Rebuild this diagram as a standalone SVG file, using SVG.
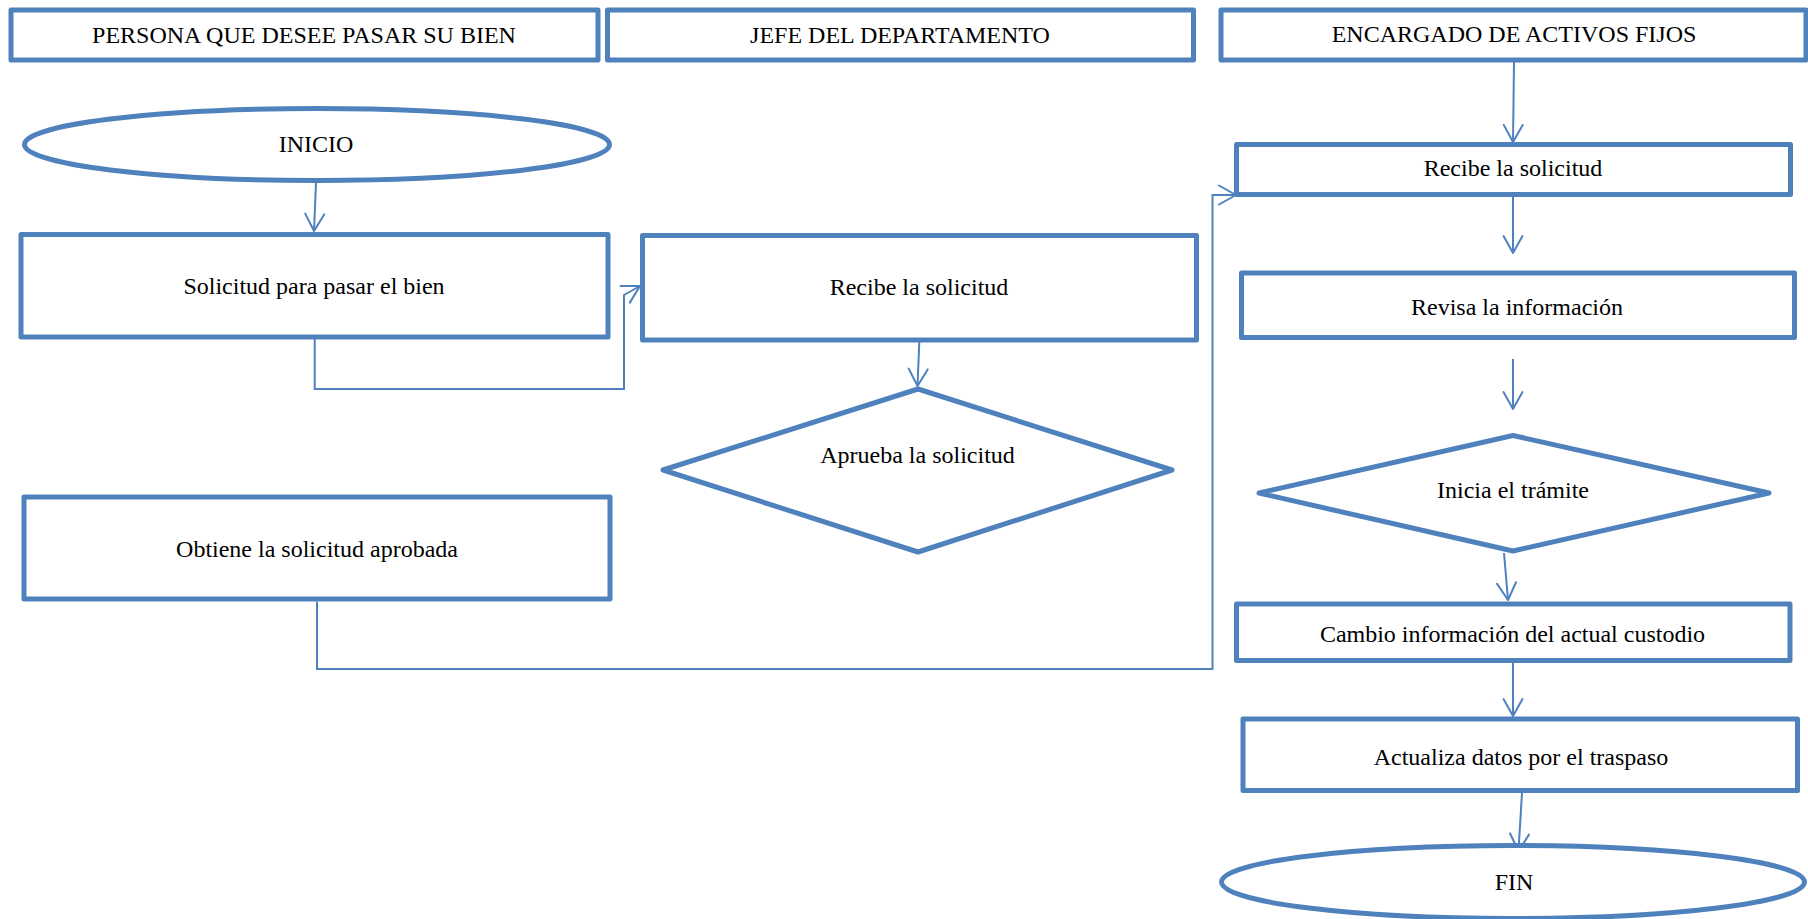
<svg xmlns="http://www.w3.org/2000/svg" width="1808" height="919" viewBox="0 0 1808 919">
  <style>
    .shape { fill: #ffffff; stroke: #4F81BD; stroke-width: 5; stroke-linejoin: round; }
    .conn { fill: none; stroke: #4F81BD; stroke-width: 2; marker-end: url(#arrow); }
    .wire { fill: none; stroke: #4F81BD; stroke-width: 2; }
    text { font-family: "Liberation Serif", "Times New Roman", serif; font-size: 24px; fill: #000000; text-anchor: middle; }
  </style>
  <defs>
    <marker id="arrow" viewBox="-20 -12 24 24" refX="0" refY="0" markerWidth="24" markerHeight="24" markerUnits="userSpaceOnUse" orient="auto" overflow="visible">
      <path d="M-17,-9.5 L0,0 L-17,9.5" fill="none" stroke="#4F81BD" stroke-width="2" stroke-linecap="round" stroke-linejoin="round"/>
    </marker>
  </defs>

  <rect width="1808" height="919" fill="#ffffff"/>

  <!-- swimlane headers -->
  <g id="lane-persona">
    <rect class="shape" x="11" y="10" width="587" height="50"/>
    <text x="304" y="43">PERSONA QUE DESEE PASAR SU BIEN</text>
  </g>
  <g id="lane-jefe">
    <rect class="shape" x="607.5" y="10" width="586" height="50"/>
    <text x="900" y="43">JEFE DEL DEPARTAMENTO</text>
  </g>
  <g id="lane-encargado">
    <rect class="shape" x="1221" y="10" width="585" height="50"/>
    <text x="1514" y="42">ENCARGADO DE ACTIVOS FIJOS</text>
  </g>

  <!-- connectors -->
  <g id="connectors">
    <path class="conn" d="M316,183 L314,231"/>
    <path class="conn" d="M314.7,339 V389 H624 V295 L640,286"/>
    <path class="conn" d="M919.3,342 L917.5,386"/>
    <path class="conn" d="M317,601.7 V669 H1212.5 V195 H1236"/>
    <path class="conn" d="M1514,62 L1513,142"/>
    <path class="conn" d="M1513,197 L1513,253"/>
    <path class="conn" d="M1513,359 L1513,409"/>
    <path class="conn" d="M1504,553 L1508,600"/>
    <path class="conn" d="M1513,663 L1513,716"/>
    <path class="conn" d="M1522.6,783 L1518.5,851"/>
  </g>

  <!-- persona lane -->
  <g id="inicio">
    <ellipse class="shape" cx="317" cy="144.5" rx="292.5" ry="36"/>
    <text x="316" y="152">INICIO</text>
  </g>
  <g id="solicitud">
    <rect class="shape" x="21" y="234.5" width="587" height="102.5"/>
    <text x="314" y="294">Solicitud para pasar el bien</text>
  </g>
  <g id="obtiene">
    <rect class="shape" x="24" y="497" width="586" height="102"/>
    <text x="317" y="557">Obtiene la solicitud aprobada</text>
  </g>

  <!-- jefe lane -->
  <g id="recibe-jefe">
    <rect class="shape" x="642.5" y="235.5" width="554" height="104.5"/>
    <text x="919" y="295">Recibe la solicitud</text>
  </g>
  <g id="aprueba">
    <polygon class="shape" points="918,389 1172,470 918,552 663,470"/>
    <text x="917.5" y="463">Aprueba la solicitud</text>
  </g>

  <!-- encargado lane -->
  <g id="recibe-encargado">
    <rect class="shape" x="1236.5" y="144.5" width="554" height="50"/>
    <text x="1513" y="176">Recibe la solicitud</text>
  </g>
  <g id="revisa">
    <rect class="shape" x="1241.5" y="273" width="553" height="64.5"/>
    <text x="1517" y="315">Revisa la información</text>
  </g>
  <g id="inicia">
    <polygon class="shape" points="1513,435.5 1769,493 1513,551 1259,493"/>
    <text x="1513" y="498">Inicia el trámite</text>
  </g>
  <g id="cambio">
    <rect class="shape" x="1236.5" y="604" width="553.5" height="56.5"/>
    <text x="1512.5" y="642">Cambio información del actual custodio</text>
  </g>
  <g id="actualiza">
    <rect class="shape" x="1243" y="719" width="554.5" height="71.5"/>
    <text x="1521" y="765">Actualiza datos por el traspaso</text>
  </g>
  <g id="fin">
    <ellipse class="shape" cx="1513" cy="882" rx="291.5" ry="36.5"/>
    <text x="1514" y="890">FIN</text>
  </g>
</svg>
